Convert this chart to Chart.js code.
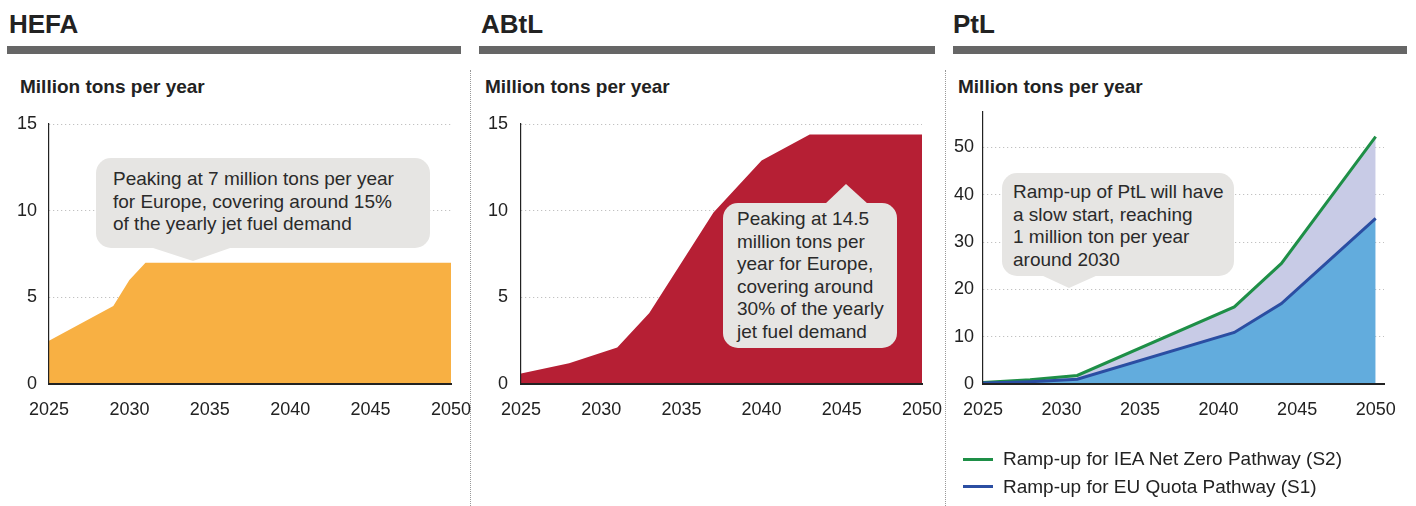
<!DOCTYPE html>
<html><head><meta charset="utf-8">
<script src="https://cdn.jsdelivr.net/npm/chart.js@4/dist/chart.umd.min.js"></script>
<style>
html,body{margin:0;padding:0;background:#fff;}
body{width:1416px;height:506px;position:relative;overflow:hidden;font-family:"Liberation Sans",Arial,Helvetica,sans-serif;color:#222;}
.abs{position:absolute;}
.title{font-size:26px;font-weight:bold;line-height:26px;top:11px;white-space:nowrap;}
.bar{top:46px;height:8px;background:#666;}
.sub{font-size:19px;font-weight:bold;line-height:19px;top:76.6px;white-space:nowrap;}
.sep{top:70px;height:436px;width:0;border-left:1.5px dotted #999;}
.callout{background:#e6e5e3;border-radius:15px;font-size:19px;line-height:22.5px;color:#2a2a2a;white-space:nowrap;box-sizing:border-box;}
.leg{font-size:19px;line-height:19px;white-space:nowrap;}
.legline{height:3px;width:30px;}
canvas{position:absolute;}
svg{position:absolute;left:0;top:0;pointer-events:none;}
</style></head><body>

<div class="abs title" style="left:9px">HEFA</div>
<div class="abs title" style="left:481px">ABtL</div>
<div class="abs title" style="left:953px">PtL</div>
<div class="abs bar" style="left:7px;width:454px"></div>
<div class="abs bar" style="left:479px;width:456px"></div>
<div class="abs bar" style="left:953px;width:454px"></div>
<div class="abs sub" style="left:20px">Million tons per year</div>
<div class="abs sub" style="left:485px">Million tons per year</div>
<div class="abs sub" style="left:958px">Million tons per year</div>
<div class="abs sep" style="left:470px"></div>
<div class="abs sep" style="left:945px"></div>

<canvas id="hefa" width="500" height="360" style="left:0px;top:80px;width:500px;height:360px"></canvas>
<canvas id="abtl" width="500" height="360" style="left:470px;top:80px;width:500px;height:360px"></canvas>
<canvas id="ptl" width="471" height="360" style="left:945px;top:80px;width:471px;height:360px"></canvas>

<div class="abs callout" style="left:96px;top:158px;width:334px;height:90px;padding:10px 0 0 17px">Peaking at 7 million tons per year<br>for Europe, covering around 15%<br>of the yearly jet fuel demand</div>
<div class="abs callout" style="left:723px;top:203px;width:174px;height:145px;padding:5px 0 0 14px">Peaking at 14.5<br>million tons per<br>year for Europe,<br>covering around<br>30% of the yearly<br>jet fuel demand</div>
<div class="abs callout" style="left:1002px;top:173px;width:232px;height:103px;padding:8px 0 0 11px">Ramp-up of PtL will have<br>a slow start, reaching<br>1 million ton per year<br>around 2030</div>
<svg width="1416" height="506">
  <polygon fill="#e6e5e3" points="150,247 233,247 193,261"/>
  <polygon fill="#e6e5e3" points="825,204 868,204 846,184"/>
  <polygon fill="#e6e5e3" points="1041,275 1098,275 1069,288"/>
</svg>

<div class="abs legline" style="left:963px;top:458px;background:#1e8f47"></div>
<div class="abs leg" style="left:1003px;top:449px">Ramp-up for IEA Net Zero Pathway (S2)</div>
<div class="abs legline" style="left:963px;top:485px;background:#2b4ea2"></div>
<div class="abs leg" style="left:1003px;top:477px">Ramp-up for EU Quota Pathway (S1)</div>

<script>
// ---- data ----
const hefaYears  = [2025, 2029, 2030, 2031, 2050];
const hefaValues = [2.5, 4.5, 6.0, 7.0, 7.0];

const abtlYears  = [2025, 2028, 2031, 2033, 2035, 2037, 2040, 2043, 2050];
const abtlValues = [0.6, 1.2, 2.1, 4.1, 7.0, 9.9, 12.9, 14.4, 14.4];

const ptlYears   = [2025, 2028, 2031, 2041, 2044, 2050];
const ptlS2      = [0.3, 0.9, 1.8, 16.3, 25.5, 52.3];
const ptlS1      = [0.2, 0.5, 1.0, 10.9, 17.0, 35.0];

const xTickYears = [2025, 2030, 2035, 2040, 2045, 2050];
const hefaYTicks = [0, 5, 10, 15];
const abtlYTicks = [0, 5, 10, 15];
const ptlYTicks  = [0, 10, 20, 30, 40, 50];

const seriesLabels = ['Ramp-up for EU Quota Pathway (S1)', 'Ramp-up for IEA Net Zero Pathway (S2)'];

// ---- helpers ----
const FONT = '"Liberation Sans", Arial, Helvetica, sans-serif';
const pts = (xs, ys) => xs.map((x, i) => ({x: x, y: ys[i]}));

function makeChart(id, cfg) {
  return new Chart(document.getElementById(id), {
    type: 'line',
    data: {datasets: cfg.datasets},
    options: {
      responsive: false,
      animation: false,
      devicePixelRatio: 1,
      layout: {padding: cfg.padding},
      plugins: {legend: {display: false}, tooltip: {enabled: false}},
      elements: {point: {radius: 0}, line: {tension: 0}},
      scales: {
        x: {
          type: 'linear', min: cfg.xMin, max: cfg.xMax,
          afterBuildTicks: s => { s.ticks = xTickYears.map(v => ({value: v})); },
          grid: {display: false, drawTicks: false},
          border: {display: true, color: '#222', width: 2, z: 1},
          ticks: {padding: 15, color: '#222', font: {size: 18, family: FONT}, maxRotation: 0, autoSkip: false,
                  callback: v => String(v)},
          afterFit: s => { s.height = cfg.xHeight; }
        },
        y: {
          type: 'linear', min: 0, max: cfg.yMax,
          afterBuildTicks: s => { s.ticks = cfg.yTicks.map(v => ({value: v})); },
          grid: {color: '#b3b3b3', lineWidth: 1, drawTicks: false},
          border: {display: true, color: '#222', width: 1.2, dash: [1, 3], z: 1},
          ticks: {padding: cfg.yPad, color: '#222', font: {size: 18, family: FONT}, callback: v => String(v)},
          afterFit: s => { s.width = cfg.yWidth; }
        }
      }
    }
  });
}

makeChart('hefa', {
  xMin: 2025, xMax: 2050, yMax: 15, yTicks: hefaYTicks,
  padding: {top: 44, right: 49, left: 0, bottom: 0}, yWidth: 49, xHeight: 56, yPad: 12,
  datasets: [{label: 'HEFA', data: pts(hefaYears, hefaValues), fill: 'origin',
              backgroundColor: '#f8b043', borderColor: 'rgba(0,0,0,0)', borderWidth: 0}]
});

makeChart('abtl', {
  xMin: 2025, xMax: 2050, yMax: 15, yTicks: abtlYTicks,
  padding: {top: 44, right: 48, left: 0, bottom: 0}, yWidth: 51, xHeight: 56, yPad: 13,
  datasets: [{label: 'ABtL', data: pts(abtlYears, abtlValues), fill: 'origin',
              backgroundColor: '#b61f34', borderColor: 'rgba(0,0,0,0)', borderWidth: 0}]
});

makeChart('ptl', {
  xMin: 2025, xMax: 2050.53, yMax: 57.5, yTicks: ptlYTicks,
  padding: {top: 32, right: 32, left: 0, bottom: 0}, yWidth: 38, xHeight: 56, yPad: 9,
  datasets: [
    {label: seriesLabels[0], data: pts(ptlYears, ptlS1), fill: 'origin',
     backgroundColor: '#62acdd', borderColor: '#2b4ea2', borderWidth: 3},
    {label: seriesLabels[1], data: pts(ptlYears, ptlS2), fill: '-1',
     backgroundColor: '#c8cbe6', borderColor: '#1e8f47', borderWidth: 3}
  ]
});
</script>
</body></html>
